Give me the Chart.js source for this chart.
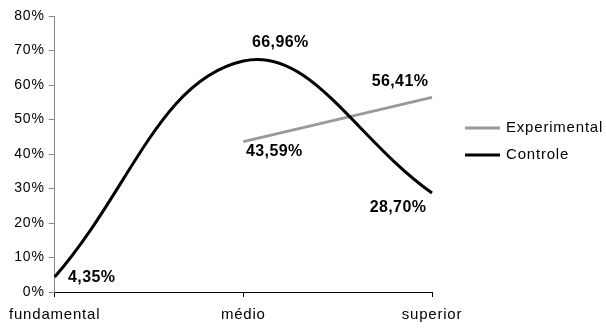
<!DOCTYPE html>
<html>
<head>
<meta charset="utf-8">
<script src="https://cdn.jsdelivr.net/npm/chart.js@4/dist/chart.umd.min.js"></script>
<style>
  html, body { margin: 0; padding: 0; background: #fff; }
  #wrap { width: 606px; height: 328px; }
</style>
</head>
<body>
<div id="wrap"><canvas id="c" width="606" height="328"></canvas></div>
<script>
// Escolaridade por grupo (percentual)
const categories = ['fundamental', 'médio', 'superior'];
const experimental = [null, 43.59, 56.41];
const controle = [4.35, 66.96, 28.70];
const yTicks = [0, 10, 20, 30, 40, 50, 60, 70, 80];

const fmt = v => v.toFixed(2).replace('.', ',') + '%';
const FONT = "'Liberation Sans', Arial, sans-serif";
const SPACING = '0.8px';

// spacing of the glyphs, applied to every text the canvas draws
const spacingPlugin = {
  id: 'spacing',
  beforeUpdate(chart) { chart.ctx.letterSpacing = SPACING; },
  beforeDraw(chart) { chart.ctx.letterSpacing = SPACING; }
};

// value labels next to each point, offset per point
const valueLabels = {
  id: 'valueLabels',
  afterDatasetsDraw(chart, args, opts) {
    const ctx = chart.ctx;
    ctx.save();
    ctx.letterSpacing = '0.4px';
    ctx.font = 'bold 16px ' + FONT;
    ctx.fillStyle = '#000';
    ctx.textAlign = 'center';
    ctx.textBaseline = 'middle';
    chart.data.datasets.forEach((ds, di) => {
      const offs = opts.offsets[di];
      ds.data.forEach((v, i) => {
        if (v === null) return;
        const x = chart.scales.x.getPixelForValue(i);
        const y = chart.scales.y.getPixelForValue(v);
        const o = offs[i];
        ctx.fillText(fmt(v), x + o[0], y + o[1]);
      });
    });
    ctx.restore();
  }
};

// legend on the right: line sample + label
const sideLegend = {
  id: 'sideLegend',
  afterDraw(chart, args, opts) {
    const ctx = chart.ctx;
    ctx.save();
    ctx.letterSpacing = SPACING;
    ctx.font = '15px ' + FONT;
    ctx.textAlign = 'left';
    ctx.textBaseline = 'middle';
    chart.data.datasets.forEach((ds, i) => {
      const y = opts.top + i * opts.gap;
      ctx.strokeStyle = ds.borderColor;
      ctx.lineWidth = ds.borderWidth;
      ctx.beginPath();
      ctx.moveTo(opts.left, y);
      ctx.lineTo(opts.left + opts.lineLen, y);
      ctx.stroke();
      ctx.fillStyle = '#000';
      ctx.fillText(ds.label, opts.left + opts.lineLen + 6, y);
    });
    ctx.restore();
  }
};

new Chart(document.getElementById('c'), {
  type: 'line',
  data: {
    labels: categories,
    datasets: [
      {
        label: 'Experimental',
        data: experimental,
        borderColor: '#999999',
        borderWidth: 3,
        pointRadius: 0,
        tension: 0,
        order: 1
      },
      {
        label: 'Controle',
        data: controle,
        borderColor: '#000000',
        borderWidth: 3,
        pointRadius: 0,
        tension: 0.4,
        order: 0
      }
    ]
  },
  options: {
    responsive: false,
    animation: false,
    layout: { padding: { top: 16, right: 174, left: 0, bottom: 0 } },
    plugins: {
      legend: { display: false },
      tooltip: { enabled: false },
      valueLabels: {
        offsets: [
          [null, [31, 10], [-32, -16]],
          [[37, 1], [37, -18], [-34, 15]]
        ]
      },
      sideLegend: { left: 465, top: 128, gap: 27, lineLen: 35 }
    },
    scales: {
      x: {
        offset: false,
        grid: { drawOnChartArea: false, drawTicks: true, tickLength: 5, color: '#000' },
        border: { color: '#000', width: 1 },
        ticks: {
          color: '#000',
          font: { family: FONT, size: 15 },
          padding: 9,
          maxRotation: 0,
          autoSkip: false
        },
        afterFit(scale) { scale.height = 36; }
      },
      y: {
        min: 0,
        max: 80,
        afterBuildTicks(scale) { scale.ticks = yTicks.map(v => ({ value: v })); },
        grid: { drawOnChartArea: false, drawTicks: true, tickLength: 6, color: '#888' },
        border: { color: '#888', width: 1 },
        ticks: {
          color: '#000',
          font: { family: FONT, size: 14 },
          padding: 4,
          callback: v => v + '%'
        },
        afterFit(scale) { scale.width = 53; }
      }
    }
  },
  plugins: [spacingPlugin, valueLabels, sideLegend]
});
</script>
</body>
</html>
